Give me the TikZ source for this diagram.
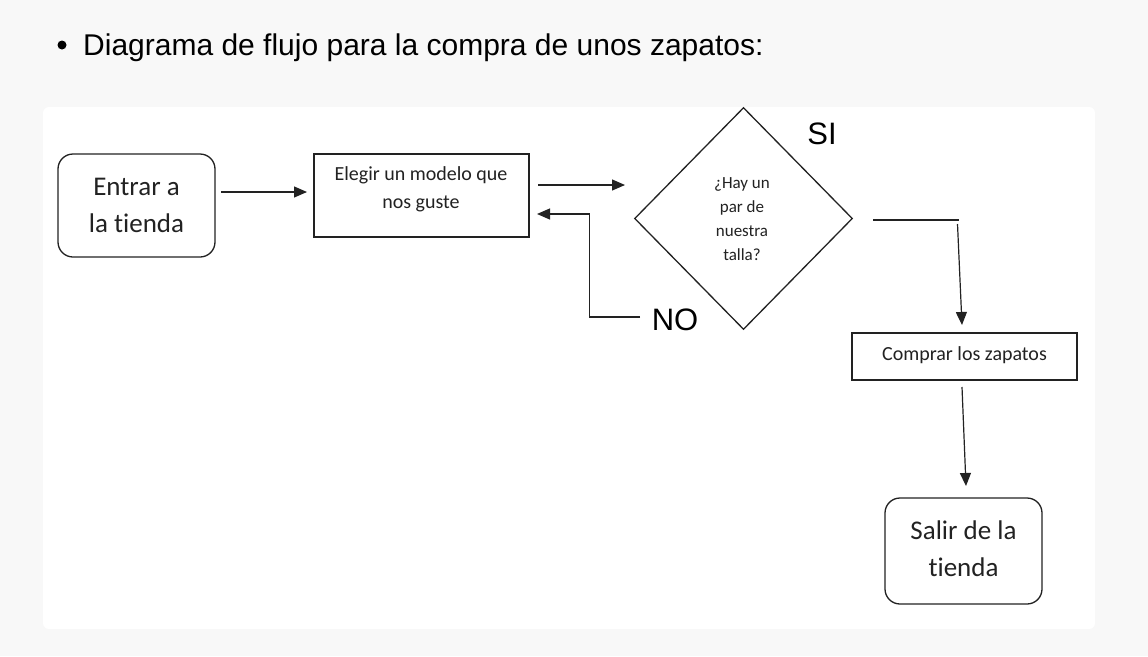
\documentclass[tikz,border=0pt]{standalone}
\usepackage{fontspec}
\setmainfont{Carlito}[Ligatures=NoCommon]
\newfontfamily\arialf{Liberation Sans}
\usetikzlibrary{arrows.meta,shapes.geometric}
\definecolor{pagebg}{HTML}{F8F8F8}
\definecolor{ink}{HTML}{222222}
\begin{document}
\begin{tikzpicture}[x=1pt,y=-1pt,
  boxline/.style={draw=ink,line width=1.3pt},
  roundbox/.style={boxline,rounded corners=15pt},
  arr/.style={draw=ink,line width=1.2pt,-{Triangle[length=13pt,width=11pt]}},
  plainline/.style={draw=ink,line width=1.2pt},
  bigtxt/.style={text=ink,font=\fontsize{27}{37}\selectfont,align=center,inner sep=0pt},
  midtxt/.style={text=ink,font=\fontsize{20}{28}\selectfont,align=center,inner sep=0pt},
  smalltxt/.style={text=ink,font=\fontsize{17}{24}\selectfont,align=center,inner sep=0pt},
  labtxt/.style={text=black,font=\arialf\fontsize{31}{32}\selectfont,inner sep=0pt}]
\useasboundingbox (0,0) rectangle (1148,656);
\fill[pagebg] (0,0) rectangle (1148,656);
\fill[white,rounded corners=6pt] (43,107) rectangle (1095,629);
% title
\fill[black] (62,45) circle (4.5pt);
\node[anchor=base west,inner sep=0pt,font=\arialf\fontsize{30}{32}\selectfont] (title) at (83,55) {Diagrama de flujo para la compra de unos zapatos:};
% boxes
\draw[roundbox] (58,154) rectangle (215,257);
\node[bigtxt] (entrar) at (136.5,205) {Entrar a\\la tienda};
\draw[boxline] (314,154) rectangle (529,237);
\node[midtxt] (elegir) at (421,189) {Elegir un modelo que\\nos guste};
\node[draw=ink,line width=1.3pt,shape=diamond,minimum width=218pt,minimum height=222pt,inner sep=0pt] (dec) at (743.5,218.5) {};
\node[smalltxt] (dectxt) at (742,219) {¿Hay un\\par de\\nuestra\\talla?};
\draw[boxline] (852,333) rectangle (1077,380);
\node[midtxt] (comprar) at (964.5,355) {Comprar los zapatos};
\draw[roundbox] (885,498) rectangle (1042,604);
\node[bigtxt] (salir) at (963.5,549) {Salir de la\\tienda};
% labels
\node[labtxt] (si) at (822,134) {SI};
\node[labtxt] (no) at (675,320) {NO};
% connectors
\coordinate (a1s) at (221,192); \coordinate (a1e) at (307,192);
\draw[arr] (a1s) -- (a1e);
\coordinate (a2s) at (538,185); \coordinate (a2e) at (625,185);
\draw[arr] (a2s) -- (a2e);
\coordinate (n1) at (640,317); \coordinate (n2) at (589.5,317); \coordinate (n3) at (589.5,214); \coordinate (n4) at (537,214);
\draw[arr] (n1) -- (n2) -- (n3) -- (n4);
\coordinate (s1) at (873,220); \coordinate (s2) at (959,220);
\draw[plainline] (s1) -- (s2);
\coordinate (s3) at (957.5,224); \coordinate (s4) at (962,325);
\draw[arr] (s3) -- (s4);
\coordinate (c1) at (962,387); \coordinate (c2) at (966,486);
\draw[arr] (c1) -- (c2);
\end{tikzpicture}
\end{document}
